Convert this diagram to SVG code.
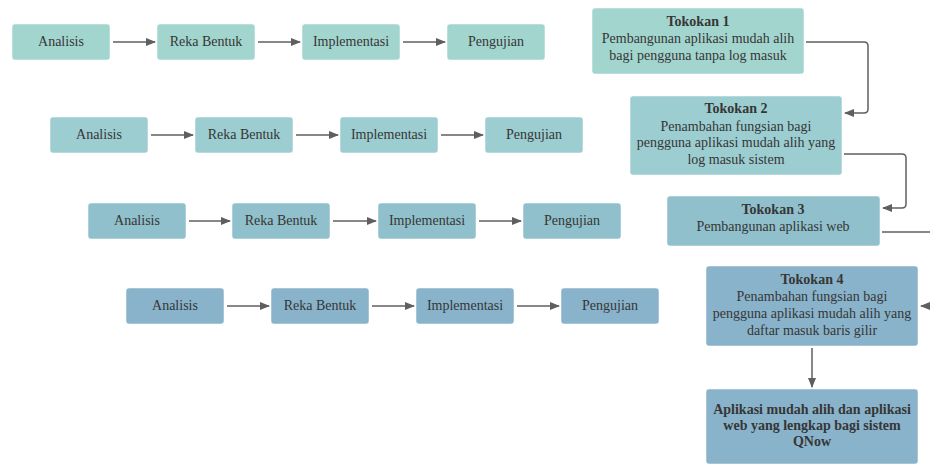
<svg xmlns="http://www.w3.org/2000/svg" width="930" height="464" viewBox="0 0 930 464">
<defs>
<marker id="ah" markerWidth="10" markerHeight="8" refX="9" refY="4" orient="auto" markerUnits="userSpaceOnUse">
<path d="M0,0 L10,4 L0,8 Z" fill="#5f5f5f"/>
</marker>
<style>
.b{stroke:#ffffff;stroke-opacity:0.5;stroke-width:1}
.c1{fill:#a3d5cf}.c2{fill:#9ccdd0}.c3{fill:#8fc0cb}.c4{fill:#89b3ca}
text{font-family:"Liberation Serif","DejaVu Serif",serif;font-size:14px;fill:#363636;text-anchor:middle}
.t{font-weight:bold}
.e{fill:none;stroke:#5f5f5f;stroke-width:1.5;marker-end:url(#ah)}
</style>
</defs>
<rect width="930" height="464" fill="#ffffff"/>
<g id="r1a"><rect class="b c1" x="12" y="24" width="98" height="36" rx="3"/><text x="61" y="46">Analisis</text></g>
<g id="r1b"><rect class="b c1" x="157" y="24" width="98" height="36" rx="3"/><text x="206" y="46">Reka Bentuk</text></g>
<g id="r1c"><rect class="b c1" x="302" y="24" width="98" height="36" rx="3"/><text x="351" y="46">Implementasi</text></g>
<g id="r1d"><rect class="b c1" x="447" y="24" width="98" height="36" rx="3"/><text x="496" y="46">Pengujian</text></g>
<g id="r2a"><rect class="b c2" x="50" y="117" width="98" height="36" rx="3"/><text x="99" y="139">Analisis</text></g>
<g id="r2b"><rect class="b c2" x="195" y="117" width="98" height="36" rx="3"/><text x="244" y="139">Reka Bentuk</text></g>
<g id="r2c"><rect class="b c2" x="340" y="117" width="98" height="36" rx="3"/><text x="389" y="139">Implementasi</text></g>
<g id="r2d"><rect class="b c2" x="485" y="117" width="98" height="36" rx="3"/><text x="534" y="139">Pengujian</text></g>
<g id="r3a"><rect class="b c3" x="88" y="203" width="98" height="36" rx="3"/><text x="137" y="225">Analisis</text></g>
<g id="r3b"><rect class="b c3" x="232" y="203" width="98" height="36" rx="3"/><text x="281" y="225">Reka Bentuk</text></g>
<g id="r3c"><rect class="b c3" x="378" y="203" width="98" height="36" rx="3"/><text x="427" y="225">Implementasi</text></g>
<g id="r3d"><rect class="b c3" x="523" y="203" width="98" height="36" rx="3"/><text x="572" y="225">Pengujian</text></g>
<g id="r4a"><rect class="b c4" x="126" y="288" width="98" height="36" rx="3"/><text x="175" y="310">Analisis</text></g>
<g id="r4b"><rect class="b c4" x="271" y="288" width="98" height="36" rx="3"/><text x="320" y="310">Reka Bentuk</text></g>
<g id="r4c"><rect class="b c4" x="416" y="288" width="98" height="36" rx="3"/><text x="465" y="310">Implementasi</text></g>
<g id="r4d"><rect class="b c4" x="561" y="288" width="98" height="36" rx="3"/><text x="610" y="310">Pengujian</text></g>
<g id="t1"><rect class="b c1" x="592" y="8" width="212" height="66" rx="3"/><text class="t" x="698" y="26">Tokokan 1</text><text x="698" y="43">Pembangunan aplikasi mudah alih</text><text x="698" y="60">bagi pengguna tanpa log masuk</text></g>
<g id="t2"><rect class="b c2" x="630" y="96" width="212" height="79" rx="3"/><text class="t" x="736" y="113">Tokokan 2</text><text x="736" y="131">Penambahan fungsian bagi</text><text x="736" y="147">pengguna aplikasi mudah alih yang</text><text x="736" y="164">log masuk sistem</text></g>
<g id="t3"><rect class="b c3" x="667" y="196" width="213" height="50" rx="3"/><text class="t" x="773" y="214">Tokokan 3</text><text x="773" y="231">Pembangunan aplikasi web</text></g>
<g id="t4"><rect class="b c4" x="706" y="266" width="212" height="80" rx="3"/><text class="t" x="812" y="284">Tokokan 4</text><text x="812" y="301">Penambahan fungsian bagi</text><text x="812" y="318">pengguna aplikasi mudah alih yang</text><text x="812" y="335">daftar masuk baris gilir</text></g>
<g id="fin"><rect class="b c4" x="706" y="389" width="212" height="75" rx="3"/><text class="t" x="812" y="414">Aplikasi mudah alih dan aplikasi</text><text class="t" x="812" y="430">web yang lengkap bagi sistem</text><text class="t" x="812" y="446">QNow</text></g>
<g id="edges">
<path class="e" d="M113,42 H155"/><path class="e" d="M258,42 H300"/><path class="e" d="M403,42 H445"/>
<path class="e" d="M151,135 H193"/><path class="e" d="M296,135 H338"/><path class="e" d="M441,135 H483"/>
<path class="e" d="M189,221 H230"/><path class="e" d="M333,221 H376"/><path class="e" d="M479,221 H521"/>
<path class="e" d="M227,306 H269"/><path class="e" d="M372,306 H414"/><path class="e" d="M517,306 H559"/>
<path class="e" d="M806,42 H864 Q868,42 868,46 V109 Q868,113 864,113 H845"/>
<path class="e" d="M844,154 H902 Q906,154 906,158 V204 Q906,208 902,208 H883"/>
<path fill="none" stroke="#5f5f5f" stroke-width="1.5" d="M882,232 H932"/>
<path class="e" d="M932,306 H921"/>
<path class="e" d="M812,348 V387"/>
</g>
</svg>
